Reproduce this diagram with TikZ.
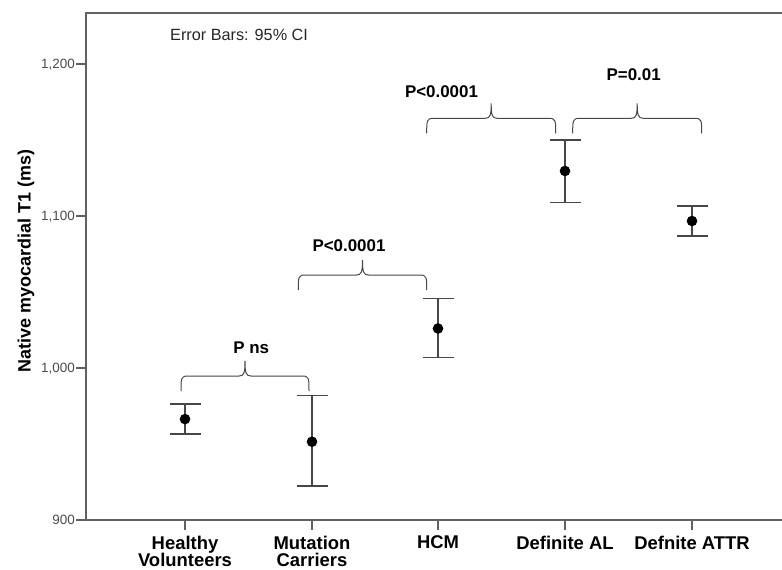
\documentclass[tikz,border=0pt]{standalone}
\usepackage{fontspec}
\setmainfont{Liberation Sans}
\usetikzlibrary{positioning}

\tikzset{
  frameline/.style={draw=black!62, line width=1.8bp},
  tickline/.style={draw=black!62, line width=1.5bp},
  barline/.style={draw=black!72, line width=1.3bp},
  braceline/.style={draw=black!72, line width=1bp},
  meandot/.style={circle, fill=black, inner sep=0pt, minimum size=10.6bp},
  cattext/.style={font=\bfseries\fontsize{18.5}{18}\selectfont, align=center, anchor=north, inner sep=0pt},
  ticktext/.style={font=\fontsize{13.5}{14}\selectfont, text=black!70, anchor=base east, inner sep=0pt},
  ptext/.style={font=\bfseries\fontsize{17}{18}\selectfont, anchor=base, inner sep=0pt},
}

% brace over two groups: left x, right x, bar y
\newcommand\sigbrace[3]{%
  \pgfmathsetmacro\bmid{(#1+#2)/2}
  \draw[braceline] (#1,#3+15) .. controls (#1,#3+2) and (#1,#3) .. (#1+7,#3)
    -- (\bmid-6,#3) .. controls (\bmid-1,#3) and (\bmid,#3-3) .. (\bmid,#3-15)
    .. controls (\bmid,#3-3) and (\bmid+1,#3) .. (\bmid+6,#3)
    -- (#2-7,#3) .. controls (#2,#3) and (#2,#3+2) .. (#2,#3+15);}

\begin{document}
\begin{tikzpicture}[x=1bp, y=-1bp]
\useasboundingbox (0,0) rectangle (782,570);

% axes
\draw[frameline] (782,13) -- (86,13) -- (86,520) -- (782,520);
\foreach \yy/\txt in {64/{1,200}, 216/{1,100}, 368/{1,000}, 520/900} {
  \draw[tickline] (76,\yy) -- (86,\yy);
  \node[ticktext] at (75,\yy+4.7) {\txt};
}
\foreach \cx in {185,312,438,565,692}
  \draw[tickline] (\cx,520) -- (\cx,530);

\node[font=\bfseries\fontsize{18}{18}\selectfont, rotate=90, inner sep=0pt] (ylab) at (26,261) {Native myocardial T1 (ms)};
\node[font=\fontsize{16.3}{17}\selectfont, anchor=base west, inner sep=0pt, text=black!85] (note) at (170,40.7) {Error Bars: 95\% CI};

% group labels
\node[cattext] (lab-hv) at (185,535.5) {Healthy\\Volunteers};
\node[cattext] (lab-mc) at (312,535.5) {Mutation\\Carriers};
\node[cattext] (lab-hcm) at (438,535.5) {HCM};
\node[cattext] (lab-al) at (565,535.5) {Definite AL};
\node[cattext] (lab-attr) at (692,535.5) {Defnite ATTR};

% means and 95% CI (ms)
\foreach \nm/\cx/\lo/\mn/\hi in {hv/185/956.6/966.4/976.3, mc/312/922.4/951.5/981.8,
    hcm/438/1007/1026/1045.6, al/565/1109/1129.6/1150, attr/692/1086.8/1096.7/1106.6} {
  \coordinate (lo-\nm) at (\cx,{520-1.52*(\lo-900)});
  \coordinate (hi-\nm) at (\cx,{520-1.52*(\hi-900)});
  \draw[barline] (lo-\nm) -- (hi-\nm);
  \draw[barline] ([xshift=-15.5bp]lo-\nm) -- ([xshift=15.5bp]lo-\nm);
  \draw[barline] ([xshift=-15.5bp]hi-\nm) -- ([xshift=15.5bp]hi-\nm);
  \node[meandot] (mn-\nm) at (\cx,{520-1.52*(\mn-900)}) {};
}

% significance
\sigbrace{181}{309}{376}
\node[ptext] (p-mc) at (251.2,353.3) {P ns};
\sigbrace{298.3}{426.7}{275}
\node[ptext] (p-hcm) at (349,251.7) {P<0.0001};
\sigbrace{426.7}{555.7}{118.3}
\node[ptext] (p-al) at (441.5,97.3) {P<0.0001};
\sigbrace{572.7}{701.7}{118.3}
\node[ptext] (p-attr) at (633.7,81) {P=0.01};
\end{tikzpicture}
\end{document}
